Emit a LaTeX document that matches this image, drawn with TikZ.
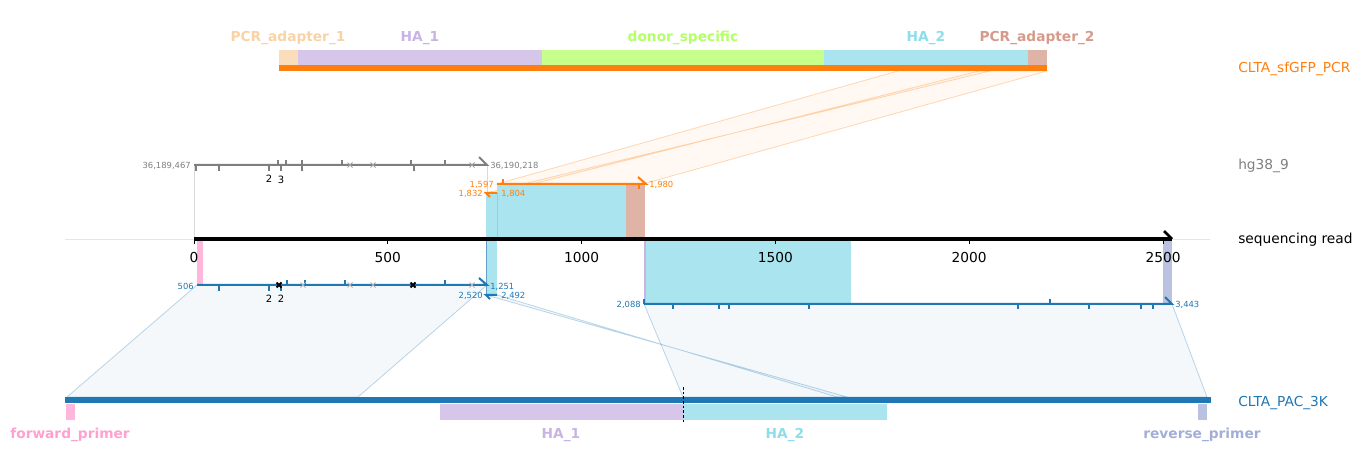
\documentclass[tikz,border=0pt]{standalone}
\usepackage{fontspec}
\setmainfont{DejaVu Sans}
\usetikzlibrary{positioning}

\definecolor{tabblue}{HTML}{1F77B4}
\definecolor{taborange}{HTML}{FF7F0E}
\definecolor{tabgrey}{HTML}{7F7F7F}
\definecolor{adapterA}{HTML}{F9D3A5}
\definecolor{homologyA}{HTML}{C8B4E3}
\definecolor{donor}{HTML}{B3FF66}
\definecolor{homologyB}{HTML}{8EDDEA}
\definecolor{adapterB}{HTML}{D69A8A}
\definecolor{fwdprimer}{HTML}{FFA0D0}
\definecolor{revprimer}{HTML}{A2AED6}

\begin{document}
\begin{tikzpicture}[x=0.75pt,y=-0.75pt,
  every node/.style={inner sep=0pt,font=\fontsize{10.3}{12}\selectfont},
  smalltxt/.style={font=\fontsize{6.3}{7}\selectfont},
  counttxt/.style={font=\fontsize{7.5}{8}\selectfont},
  featlabel/.style={font=\fontsize{10.3}{12}\selectfont\bfseries,text=#1,anchor=base},
  aln/.style={line width=1.5pt,draw=#1},
  shade/.style={fill=#1,fill opacity=0.05,draw=#1,draw opacity=0.3,line width=0.6pt},
]
\useasboundingbox (0,0) rectangle (1364,470);

% track ends
\coordinate (pcrL) at (279,68);   \coordinate (pcrR) at (1047,68);
\coordinate (hgL) at (194,165);   \coordinate (hgR) at (487,165);
\coordinate (orA) at (497,184);   \coordinate (orB) at (646,184);
\coordinate (orC) at (486,193);   \coordinate (orD) at (497,193);
\coordinate (axL) at (194,239);   \coordinate (axR) at (1172,239);
\coordinate (rdA) at (197,285);   \coordinate (rdB) at (487,285);
\coordinate (rdC) at (486,295);   \coordinate (rdD) at (497,295);
\coordinate (rdE) at (644,304);   \coordinate (rdF) at (1172,304);
\coordinate (pacL) at (65,400);   \coordinate (pacR) at (1211,400);

% shaded alignment bands
\draw[shade=taborange] (orA) -- (643,184) -- (1047,71) -- (898,71) -- cycle;
\draw[shade=taborange] (orC) -- (orD) -- (979,71) -- (990,71) -- cycle;
\draw[shade=tabblue] (rdA) -- (rdB) -- (358,397) -- (67,397) -- cycle;
\draw[shade=tabblue] (rdC) -- (rdD) -- (837,397) -- (847,397) -- cycle;
\draw[shade=tabblue] (rdE) -- (rdF) -- (1207,397) -- (683,397) -- cycle;

% reference PCR product
\foreach \xa/\xb/\c in {279/298/adapterA,298/542/homologyA,542/824/donor,824/1028/homologyB,1028/1047/adapterB}{
  \fill[\c!75] (\xa,50) rectangle (\xb,65);
}
\draw[taborange,line width=4.5pt] (pcrL) -- (pcrR);
\foreach \xm/\c/\t [count=\i] in {288/adapterA/PCR\_adapter\_1,420/homologyA/HA\_1,683/donor/donor\_specific,926/homologyB/HA\_2,1037/adapterB/PCR\_adapter\_2}{
  \node[featlabel=\c] (top\i) at (\xm,42) {\t};
}

% read axis
\draw[gray!20,line width=0.6pt] (65,239) -- (1210,239);
\draw[gray!30,line width=0.6pt] (hgL) -- (axL) (hgR) -- (487,239);
\fill[homologyB!75] (486,193) rectangle (497,239);
\fill[homologyB!75] (497,184) rectangle (626,239);
\fill[adapterB!75] (626,184) rectangle (645,239);
\draw[gray!50,line width=0.6pt] (orD) -- (497,239);
\fill[fwdprimer!75] (197,239) rectangle (203,285);
\fill[homologyB!75] (486,239) rectangle (497,295);
\draw[tabblue!70,line width=0.5pt] (486,239) -- (486,295);
\fill[homologyB!75] (645,239) rectangle (851,304);
\draw[homologyA,line width=1pt] (645,239) -- (645,304);
\fill[revprimer!75] (1163,239) rectangle (1172,304);
\draw[line width=3pt] (axL) -- (axR);
\draw[line width=2pt] (axR) -- ++(-8,-8);
\foreach \v in {0,500,...,2500}{
  \draw[line width=0.6pt] ({194+\v*0.3876},239) -- ++(0,5);
  \node (tk\v) at ({194+\v*0.3876},257.5) {\v};
}

% hg38 alignment
\draw[aln=tabgrey] (hgL) -- (hgR) -- ++(-8,-8);
\foreach \x in {278,286,302,342,411,445}{\draw[tabgrey,line width=1.5pt] (\x,165) -- ++(0,-5);}
\foreach \x in {196,219,269,281,302,414}{\draw[tabgrey,line width=1.5pt] (\x,165) -- ++(0,6);}
\foreach \x in {350,373,472}{\draw[tabgrey!70,line width=0.6pt] (\x,165) ++(-2.5,-2.5) -- ++(5,5) ++(-5,0) -- ++(5,-5);}
\node[counttxt] (hgn1) at (269,178.5) {2};
\node[counttxt] (hgn2) at (281,179.5) {3};
\node[smalltxt,text=tabgrey,anchor=east] (hgs) at (191,165.5) {36,189,467};
\node[smalltxt,text=tabgrey,anchor=west] (hge) at (490,165.5) {36,190,218};

% PCR product alignment
\draw[aln=taborange] (orA) -- (orB) -- ++(-8,-7);
\draw[taborange,line width=1.5pt] (503,184) -- ++(0,-5) (639,184) -- ++(0,5);
\draw[aln=taborange] (orD) -- (orC) -- ++(4,4);
\node[smalltxt,text=taborange,anchor=east] (ors) at (494,184.5) {1,597};
\node[smalltxt,text=taborange,anchor=west] (ore) at (649,184.5) {1,980};
\node[smalltxt,text=taborange,anchor=east] (ors2) at (483,193.5) {1,832};
\node[smalltxt,text=taborange,anchor=west] (ore2) at (501,193.5) {1,804};

% PAC_3K alignments
\draw[aln=tabblue] (rdA) -- (rdB) -- ++(-8,-7);
\foreach \x in {287,305,345,445}{\draw[tabblue,line width=1.5pt] (\x,285) -- ++(0,-5);}
\foreach \x in {219,269,281}{\draw[tabblue,line width=1.5pt] (\x,285) -- ++(0,6);}
\foreach \x in {303,350,373,472}{\draw[tabgrey!60,line width=0.6pt] (\x,285) ++(-2.5,-2.5) -- ++(5,5) ++(-5,0) -- ++(5,-5);}
\foreach \x in {279,413}{\draw[black,line width=1.4pt] (\x,285) ++(-2.5,-2.5) -- ++(5,5) ++(-5,0) -- ++(5,-5);}
\node[counttxt] (rdn1) at (269,298.5) {2};
\node[counttxt] (rdn2) at (281,298.5) {2};
\draw[aln=tabblue] (rdD) -- (rdC) -- ++(4,4);
\draw[aln=tabblue] (rdE) -- (rdF) -- ++(-7,-7);
\draw[tabblue,line width=1.5pt] (644,304) -- ++(0,-5) (1050,304) -- ++(0,-5);
\foreach \x in {673,719,729,809,1018,1089,1141,1153}{\draw[tabblue,line width=1.5pt] (\x,304) -- ++(0,5);}
\node[smalltxt,text=tabblue,anchor=east] (rds) at (194,286.5) {506};
\node[smalltxt,text=tabblue,anchor=west] (rde) at (490,286.5) {1,251};
\node[smalltxt,text=tabblue,anchor=east] (rds2) at (483,295.5) {2,520};
\node[smalltxt,text=tabblue,anchor=west] (rde2) at (501,295.5) {2,492};
\node[smalltxt,text=tabblue,anchor=east] (rds3) at (641,304.5) {2,088};
\node[smalltxt,text=tabblue,anchor=west] (rde3) at (1175,304.5) {3,443};

% reference plasmid
\draw[tabblue,line width=5.2pt] (pacL) -- (pacR);
\foreach \xa/\xb/\c in {66/75/fwdprimer,440/683/homologyA,683/887/homologyB,1198/1207/revprimer}{
  \fill[\c!75] (\xa,404) rectangle (\xb,420);
}
\draw[black,dashed,line width=0.6pt,dash pattern=on 2pt off 1.5pt] (683,387) -- (683,424);
\foreach \xm/\c/\t [count=\i] in {70/fwdprimer/forward\_primer,561/homologyA/HA\_1,785/homologyB/HA\_2,1202/revprimer/reverse\_primer}{
  \node[featlabel=\c] (bot\i) at (\xm,438) {\t};
}

% track names
\node[anchor=base west,text=taborange] (nmPCR) at (1238,73) {CLTA\_sfGFP\_PCR};
\node[anchor=base west,text=tabgrey] (nmHG) at (1238,170) {hg38\_9};
\node[anchor=base west] (nmRead) at (1238,244) {sequencing read};
\node[anchor=base west,text=tabblue] (nmPAC) at (1238,406) {CLTA\_PAC\_3K};

\end{tikzpicture}
\end{document}
